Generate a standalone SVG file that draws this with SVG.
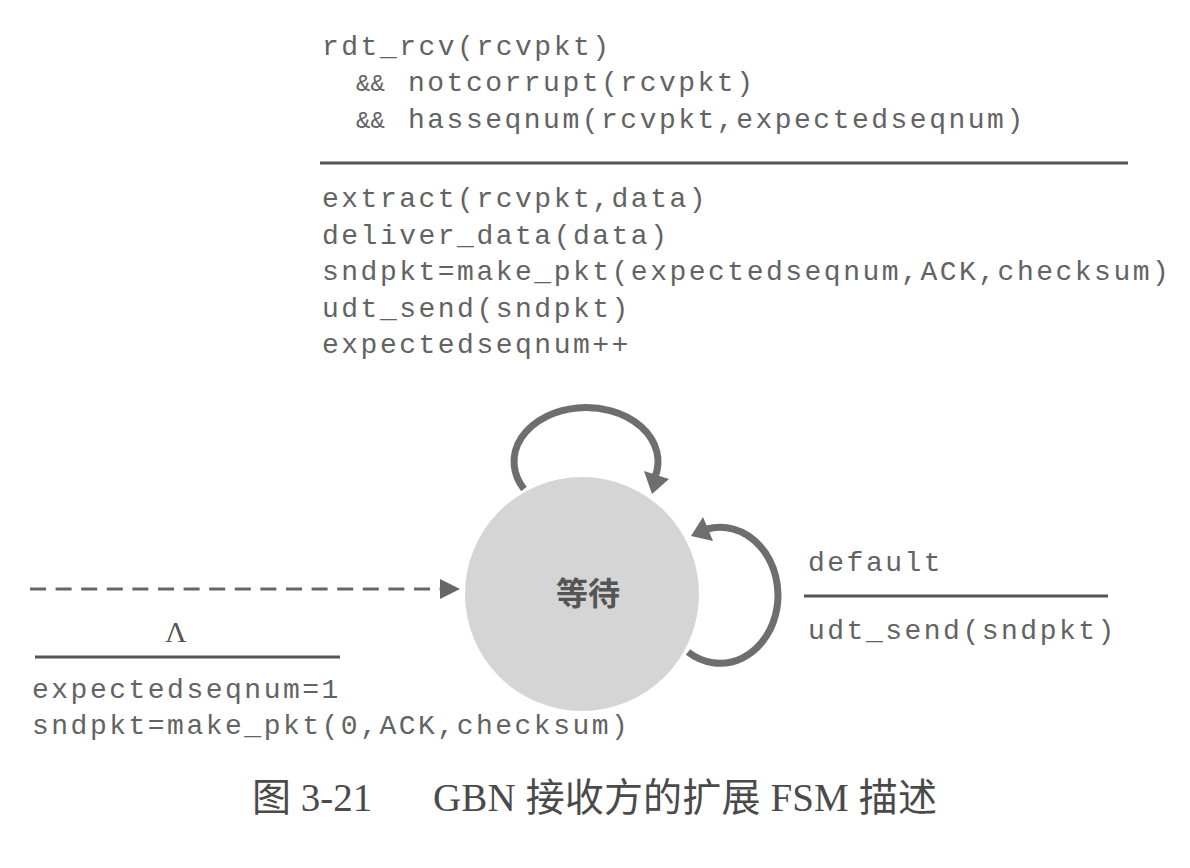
<svg xmlns="http://www.w3.org/2000/svg" width="1190" height="868" viewBox="0 0 1190 868">
<style>
.code{font-family:"Liberation Mono","DejaVu Sans Mono",monospace;font-size:28px;letter-spacing:2.5px;fill:#636363}
.amp{font-family:"Liberation Mono","DejaVu Sans Mono",monospace;font-size:24px;letter-spacing:0px;fill:#636363}
.rule{stroke:#555;stroke-width:3;fill:none}
.loop{stroke:#6e6e6e;stroke-width:7;fill:none}
.head{fill:#6e6e6e}
.cap{font-family:"Liberation Serif","Noto Sans CJK SC",serif;font-size:39px;fill:#4a4a4a}
</style>
<rect width="1190" height="868" fill="#ffffff"/>
<g id="connectors">
<path class="loop" d="M 524 489 A 72 54 0 1 1 655 477"/>
<polygon class="head" points="652,494 644,471 669,479"/>
<path class="loop" d="M 688 652 A 58 68 0 1 0 707 529"/>
<polygon class="head" points="691,536 703,517 713,541"/>
<line x1="30" y1="589" x2="442" y2="589" stroke="#666" stroke-width="3" stroke-dasharray="16,9.6"/>
<polygon points="460,589 440,579 440,599" fill="#666"/>
</g>
<g id="state-wait">
<circle cx="582" cy="594" r="117" fill="#d5d5d5"/>
<text x="588" y="605" text-anchor="middle" font-family="Noto Sans CJK SC,sans-serif" font-weight="bold" font-size="32" fill="#555">等待</text>
</g>
<g id="label-top">
<text class="code" x="322" y="55">rdt_rcv(rcvpkt)</text>
<text y="91"><tspan class="amp" x="356">&amp;&amp;</tspan><tspan class="code" x="408">notcorrupt(rcvpkt)</tspan></text>
<text y="128"><tspan class="amp" x="356">&amp;&amp;</tspan><tspan class="code" x="408">hasseqnum(rcvpkt,expectedseqnum)</tspan></text>
<line class="rule" x1="320" y1="163" x2="1128" y2="163"/>
<text class="code" x="322" y="207">extract(rcvpkt,data)</text>
<text class="code" x="322" y="243.5">deliver_data(data)</text>
<text class="code" x="322" y="280">sndpkt=make_pkt(expectedseqnum,ACK,checksum)</text>
<text class="code" x="322" y="316.5">udt_send(sndpkt)</text>
<text class="code" x="322" y="353">expectedseqnum++</text>
</g>
<g id="label-right">
<text class="code" x="808" y="571">default</text>
<line class="rule" x1="804" y1="596" x2="1108" y2="596"/>
<text class="code" x="808" y="639">udt_send(sndpkt)</text>
</g>
<g id="label-init">
<text x="176" y="642" text-anchor="middle" font-family="Liberation Serif,serif" font-size="30" fill="#555">Λ</text>
<line class="rule" x1="35" y1="657" x2="340" y2="657"/>
<text class="code" x="32" y="698">expectedseqnum=1</text>
<text class="code" x="32" y="734">sndpkt=make_pkt(0,ACK,checksum)</text>
</g>
<g id="caption">
<text class="cap" x="252" y="811">图 3-21</text>
<text class="cap" x="433" y="811" textLength="504" lengthAdjust="spacing">GBN 接收方的扩展 FSM 描述</text>
</g>
</svg>
